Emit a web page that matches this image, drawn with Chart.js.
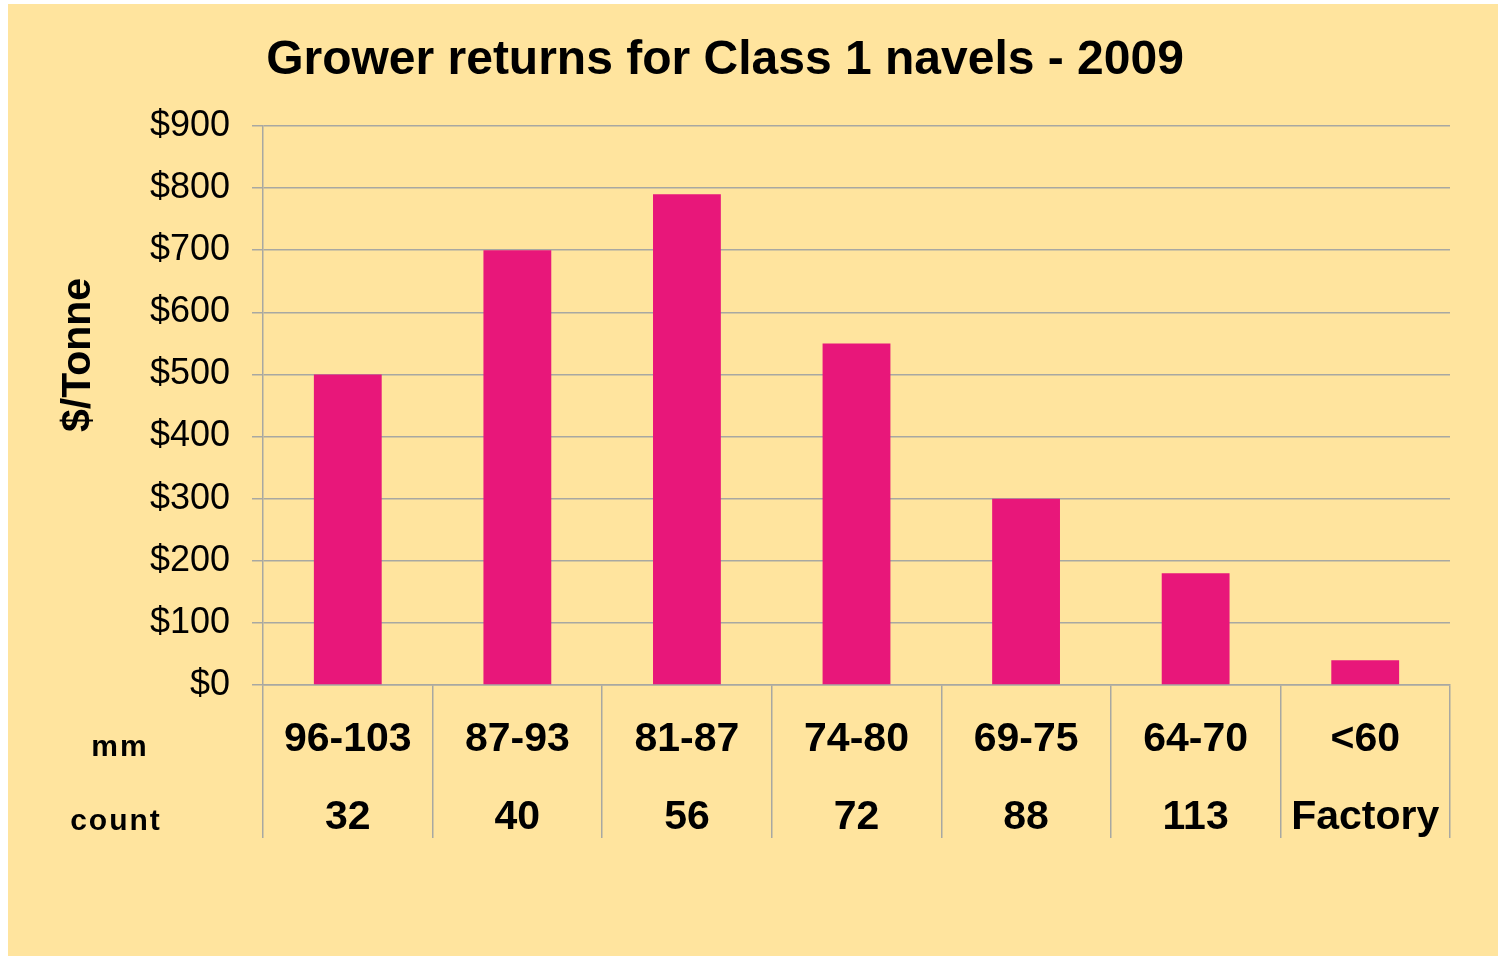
<!DOCTYPE html>
<html>
<head>
<meta charset="utf-8">
<title>Grower returns for Class 1 navels - 2009</title>
<script src="https://cdn.jsdelivr.net/npm/chart.js@4"></script>
<style>
    html, body { margin: 0; padding: 0; background: #fff; }
    #wrap { width: 1498px; height: 956px; position: relative; }
</style>
</head>
<body>
<div id="wrap"><canvas id="myChart"></canvas></div>
<script>
'use strict';

// data
const sizes = ['96-103', '87-93', '81-87', '74-80', '69-75', '64-70', '<60'];
const counts = ['32', '40', '56', '72', '88', '113', 'Factory'];
const returns = [500, 700, 790, 550, 300, 180, 40];
const yMin = 0;
const yMax = 900;
const yStep = 100;

const FONT = '"Liberation Sans", Arial, sans-serif';
const BG = '#ffe49e';
const BAR = '#e8177a';
const GRID = '#a8a8a2';

// yellow panel with a thin white edge top/left
const background = {
    id: 'background',
    beforeDraw: function (chart) {
        const c = chart.ctx;
        c.save();
        c.fillStyle = '#ffffff';
        c.fillRect(0, 0, chart.width, chart.height);
        c.fillStyle = BG;
        c.fillRect(8, 4, chart.width - 8, chart.height - 4);
        c.restore();
    }
};

// axis title and the "mm" / "count" row captions
const sideText = {
    id: 'sideText',
    afterDraw: function (chart) {
        const c = chart.ctx;
        const area = chart.chartArea;
        const x = chart.scales.x;
        c.save();
        c.fillStyle = '#000';
        c.textAlign = 'center';
        c.textBaseline = 'middle';

        c.font = 'bold 41px ' + FONT;
        c.translate(79, area.top + 229);
        c.rotate(-Math.PI / 2);
        c.fillText('$/Tonne', 0, 0);
        c.setTransform(1, 0, 0, 1, 0, 0);

        c.font = 'bold 30px ' + FONT;
        c.letterSpacing = '2px';
        c.fillText('mm', 120, x.top + 63);
        c.fillText('count', 116, x.top + 137);
        c.restore();
    }
};

const ctx = document.getElementById('myChart');

new Chart(ctx, {
    type: 'bar',
    data: {
        labels: sizes.map(function (s, i) { return [s, counts[i]]; }),
        datasets: [{
            label: '$/Tonne',
            data: returns,
            backgroundColor: BAR,
            borderWidth: 0,
            barPercentage: 0.4,
            categoryPercentage: 1
        }]
    },
    options: {
        responsive: true,
        maintainAspectRatio: false,
        animation: false,
        devicePixelRatio: 1,
        layout: {
            padding: {left: 0, right: 48, top: 0, bottom: 0}
        },
        plugins: {
            legend: {display: false},
            tooltip: {enabled: false},
            title: {
                display: true,
                text: 'Grower returns for Class 1 navels - 2009',
                color: '#000',
                font: {family: FONT, size: 48, weight: 'bold', lineHeight: 1.2},
                padding: {top: 32, bottom: 36.4}
            }
        },
        scales: {
            x: {
                afterFit: function (scale) { scale.height = 271; },
                grid: {
                    drawOnChartArea: false,
                    drawTicks: true,
                    tickLength: 153,
                    color: GRID,
                    lineWidth: 1.5
                },
                border: {color: GRID, width: 1.5},
                ticks: {
                    color: '#000',
                    padding: -137,
                    maxRotation: 0,
                    autoSkip: false,
                    font: {family: FONT, size: 41, weight: 'bold', lineHeight: 1.9}
                }
            },
            y: {
                min: yMin,
                max: yMax,
                afterFit: function (scale) { scale.width = 263; },
                grid: {
                    color: GRID,
                    lineWidth: 1.5,
                    tickLength: 11
                },
                border: {color: GRID, width: 1.5},
                ticks: {
                    stepSize: yStep,
                    color: '#000',
                    padding: 22,
                    font: {family: FONT, size: 36},
                    callback: function (v) { return '$' + v; }
                }
            }
        }
    },
    plugins: [background, sideText]
});
</script>
</body>
</html>
